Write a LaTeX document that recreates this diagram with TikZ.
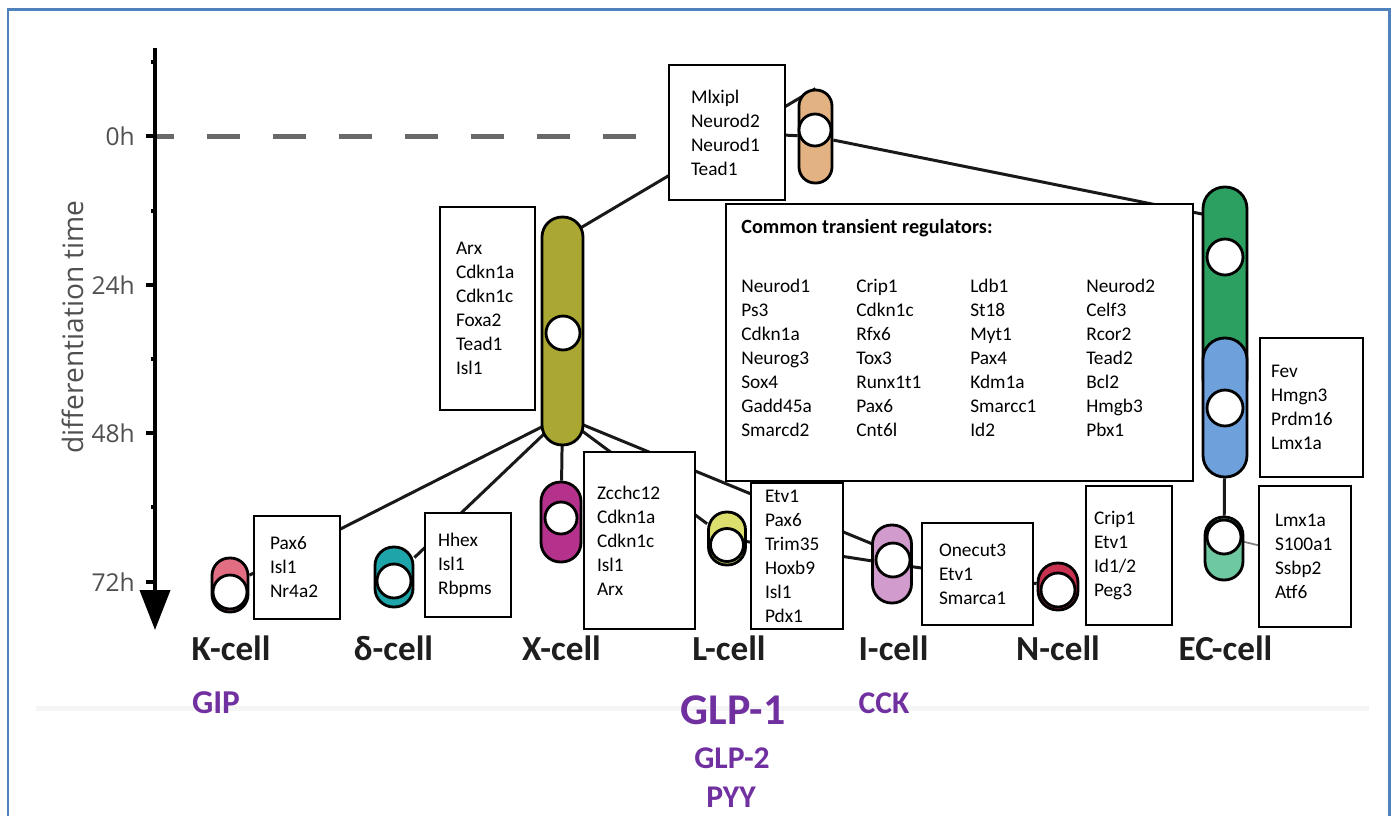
\documentclass[tikz,border=0pt]{standalone}
\usepackage{fontspec}
\setmainfont{Carlito}
\newfontfamily\axisfont{Open Sans}
\usepackage{xcolor}
\definecolor{framblue}{RGB}{79,129,189}
\definecolor{axisgray}{RGB}{80,80,80}
\definecolor{dashgray}{RGB}{105,105,105}
\definecolor{labelblack}{RGB}{30,30,30}
\definecolor{hormonepurple}{RGB}{112,48,160}
\definecolor{tanbrown}{RGB}{226,178,130}
\definecolor{olive}{RGB}{170,168,50}
\definecolor{ecgreen}{RGB}{44,160,96}
\definecolor{ecblue}{RGB}{110,160,220}
\definecolor{ecmint}{RGB}{110,200,160}
\definecolor{kpink}{RGB}{225,110,130}
\definecolor{dteal}{RGB}{30,165,170}
\definecolor{xmagenta}{RGB}{180,50,140}
\definecolor{lyellow}{RGB}{220,222,110}
\definecolor{ililac}{RGB}{210,155,205}
\definecolor{ncrimson}{RGB}{200,50,80}
\usepackage{tikz}
\usetikzlibrary{arrows.meta, backgrounds}
\newcommand{\genefont}{\fontsize{11}{13.66}\selectfont}

\begin{document}
\begin{tikzpicture}[x=0.02cm, y=-0.02cm,
  genebox/.style={draw=black, line width=1.1pt, fill=white, align=left,
                  inner ysep=0pt, font=\genefont},
  capsule/.style={draw=black, line width=1.6pt, fill=#1, inner sep=0pt},
  hole/.style={circle, draw=black, line width=1.6pt, fill=white,
               inner sep=0pt, minimum size=#1},
  link/.style={draw=black!90, line width=1.7pt},
  axisline/.style={draw=black, line width=0.08cm},
  ticklabel/.style={font=\axisfont\fontsize{14}{14}\selectfont, text=axisgray, anchor=east},
  celllabel/.style={font=\bfseries\fontsize{20}{20}\selectfont, text=labelblack, anchor=base},
  hormone/.style={font=\bfseries, text=hormonepurple, anchor=base}
]
\useasboundingbox (0,0) rectangle (1394,816);

% Frame
\draw[framblue, line width=0.06cm] (8,816) -- (8,9) -- (1389,9) -- (1389,816);
\draw[gray!8, line width=0.1cm] (36,708) -- (1369,708);

% Time axis
\draw[axisline, -{Triangle[width=0.6cm, length=0.8cm]}] (155,48) -- (155,630);
\foreach \y/\t in {136/0h, 285/24h, 433/48h, 582/72h} {
  \draw[axisline] (146,\y) -- (155,\y);
  \node[ticklabel] (tick\t) at (141,\y) {\t};
}
\foreach \y in {62, 211, 359, 507}
  \draw[axisline] (151,\y) -- (155,\y);
\node[rotate=90, font=\axisfont\fontsize{16}{16}\selectfont, text=axisgray] (axistitle) at (73,327) {differentiation time};
\coordinate (zeroh) at (155,136);

% Gene boxes
\node[genebox, inner xsep=0.44cm, text width=1.44cm, minimum height=2.7cm] (mlx) at (727,132.5) {Mlxipl\\Neurod2\\Neurod1\\Tead1};
\node[genebox, inner xsep=0.32cm, text width=1.26cm, minimum height=4.06cm] (arx) at (487.5,308.5) {Arx\\Cdkn1a\\Cdkn1c\\Foxa2\\Tead1\\Isl1};
\node[genebox, inner xsep=0.32cm, text width=1.08cm, minimum height=2.06cm] (pax) at (297,567.5) {Pax6\\Isl1\\Nr4a2};
\node[genebox, inner xsep=0.26cm, text width=1.2cm, minimum height=2.08cm] (hhex) at (468,565) {Hhex\\Isl1\\Rbpms};
\node[genebox, inner xsep=0.26cm, text width=1.7cm, minimum height=3.54cm] (zc) at (639.5,540.5) {Zcchc12\\Cdkn1a\\Cdkn1c\\Isl1\\Arx};
\node[genebox, inner xsep=0.28cm, text width=1.28cm, minimum height=2.92cm] (etv) at (797,556) {Etv1\\Pax6\\Trim35\\Hoxb9\\Isl1\\Pdx1};
\node[genebox, inner xsep=0.34cm, text width=1.54cm, minimum height=2.04cm] (one) at (977.5,574) {Onecut3\\Etv1\\Smarca1};
\node[genebox, inner xsep=0.16cm, text width=1.4cm, minimum height=2.78cm] (crip) at (1129,555.5) {Crip1\\Etv1\\Id1/2\\Peg3};
\node[genebox, inner xsep=0.22cm, text width=1.62cm, minimum height=2.78cm] (fev) at (1311.5,407.5) {Fev\\Hmgn3\\Prdm16\\Lmx1a};
\node[genebox, inner xsep=0.32cm, text width=1.2cm, minimum height=2.82cm] (lmx) at (1305,556.5) {Lmx1a\\S100a1\\Ssbp2\\Atf6};

% Common regulators
\node[genebox, minimum width=9.34cm, minimum height=5.54cm] (common) at (959.5,342.5) {};
\node[anchor=north west, inner sep=0pt, font=\genefont] (commonlist) at (741,216) {%
  \begin{tabular}{@{}p{2.3cm}@{}p{2.28cm}@{}p{2.32cm}@{}l@{}}
  \multicolumn{4}{@{}l@{}}{\fontsize{11.5}{13.66}\selectfont\bfseries Common transient regulators:}\\[20pt]
  Neurod1 & Crip1 & Ldb1 & Neurod2\\
  Ps3 & Cdkn1c & St18 & Celf3\\
  Cdkn1a & Rfx6 & Myt1 & Rcor2\\
  Neurog3 & Tox3 & Pax4 & Tead2\\
  Sox4 & Runx1t1 & Kdm1a & Bcl2\\
  Gadd45a & Pax6 & Smarcc1 & Hmgb3\\
  Smarcd2 & Cnt6l & Id2 & Pbx1
  \end{tabular}};

% Progenitor capsules
\node[capsule=tanbrown, minimum width=0.66cm, minimum height=1.86cm, rounded corners=0.32cm] (tanc) at (815.5,136.5) {};
\node[hole=0.64cm] (tanhole) at (815,130) {};
\node[capsule=olive, minimum width=0.82cm, minimum height=4.56cm, rounded corners=0.4cm] (xprog) at (562.5,331) {};
\node[hole=0.68cm] (xproghole) at (563,333) {};
\node[capsule=ecgreen, minimum width=0.88cm, minimum height=4.26cm, rounded corners=0.43cm] (ecg) at (1225,293.5) {};
\node[hole=0.72cm] (ecghole) at (1225,257) {};
\node[capsule=ecblue, minimum width=0.88cm, minimum height=2.78cm, rounded corners=0.43cm] (ecb) at (1225,407.5) {};
\node[hole=0.72cm] (ecbhole) at (1225,408) {};

% Mature cell capsules
\node[capsule=kpink, minimum width=0.72cm, minimum height=1.08cm, rounded corners=0.35cm] (kc) at (230,585) {};
\node[hole=0.68cm] (kchole) at (230,592) {};
\node[capsule=dteal, minimum width=0.76cm, minimum height=1.2cm, rounded corners=0.37cm] (dc) at (394,577) {};
\node[hole=0.68cm] (dchole) at (394,581) {};
\node[capsule=xmagenta, minimum width=0.8cm, minimum height=1.6cm, rounded corners=0.39cm] (xc) at (561,522) {};
\node[hole=0.64cm] (xchole) at (561,518) {};
\node[capsule=lyellow, minimum width=0.74cm, minimum height=1.06cm, rounded corners=0.36cm] (lc) at (727,538.5) {};
\node[hole=0.66cm] (lchole) at (727,545) {};
\node[capsule=ililac, minimum width=0.78cm, minimum height=1.56cm, rounded corners=0.38cm] (ic) at (892,564) {};
\node[hole=0.68cm] (ichole) at (893,560) {};
\node[capsule=ncrimson, minimum width=0.8cm, minimum height=0.94cm, rounded corners=0.39cm] (nc) at (1058,586.5) {};
\node[hole=0.68cm] (nchole) at (1058,590) {};
\node[capsule=ecmint, minimum width=0.76cm, minimum height=1.26cm, rounded corners=0.37cm] (ecm) at (1224,548.5) {};
\node[hole=0.68cm] (ecmhole) at (1224,537) {};

% Lineage connectors
\begin{pgfonlayer}{background}
\draw[dashgray, line width=0.1cm, dash pattern=on 0.66cm off 0.66cm, dash phase=0.28cm] (zeroh) -- (mlx.west |- zeroh);
\draw[link] ([yshift=-0.46cm]xprog.north) -- (tanc.north);
\draw[link] (mlx) -- (tanc);
\draw[link] (tanc) -- ([yshift=-0.66cm]ecg.north);
\draw[link] ([yshift=0.6cm]xprog.south) -- (kc);
\draw[link] ([yshift=0.6cm]xprog.south) -- (dc);
\draw[link] ([yshift=0.6cm]xprog.south) -- (xc);
\draw[link] ([yshift=0.6cm]xprog.south) -- (lc);
\draw[link] ([yshift=0.6cm]xprog.south) -- ([yshift=0.24cm]ic.center);
\draw[link] (lc) -- (ic);
\draw[link] (ic) -- (nc);
\draw[link] (ecb) -- (ecm);
\draw[link, draw=gray, line width=1pt] (ecmhole) -- (lmx);
\end{pgfonlayer}

% Cell types
\node[celllabel] (klabel) at (231,660) {K-cell};
\node[celllabel] (dlabel) at (393.5,660) {δ-cell};
\node[celllabel] (xlabel) at (561.5,660) {X-cell};
\node[celllabel] (llabel) at (729,660) {L-cell};
\node[celllabel] (ilabel) at (893.5,660) {I-cell};
\node[celllabel] (nlabel) at (1058,660) {N-cell};
\node[celllabel] (eclabel) at (1225.5,660) {EC-cell};

% Hormones
\node[hormone, font=\bfseries\fontsize{19}{19}\selectfont] (gip) at (216,713) {GIP};
\node[hormone, font=\bfseries\fontsize{25}{25}\selectfont] (glpone) at (733,724) {GLP-1};
\node[hormone, font=\bfseries\fontsize{18}{18}\selectfont] (glptwo) at (732,768) {GLP-2};
\node[hormone, font=\bfseries\fontsize{18}{18}\selectfont] (pyy) at (731,807) {PYY};
\node[hormone, font=\bfseries\fontsize{18}{18}\selectfont] (cck) at (884,713) {CCK};

\end{tikzpicture}
\end{document}
